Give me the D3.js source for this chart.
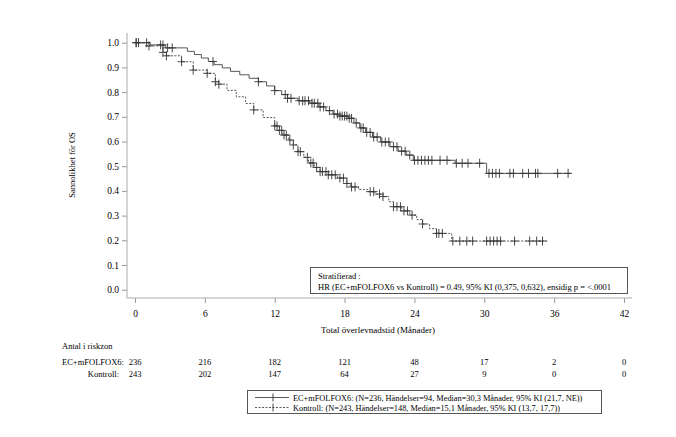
<!DOCTYPE html>
<html>
<head>
<meta charset="utf-8">
<script src="https://cdn.jsdelivr.net/npm/d3@7"></script>
<style>
  body { margin: 0; background: #fff; }
  text { font-family: "Liberation Serif", "Times New Roman", serif; fill: #000; }
</style>
</head>
<body>
<svg id="km" width="676" height="437"></svg>
<script>
// Kaplan-Meier steps: time (months) where the curve drops, and survival after the drop
var ecTime = [0, 1.3, 2.6, 4.5, 5.1, 5.7, 6.3, 6.8, 7.5, 8.2, 9.0, 9.8, 10.6, 11.3, 12.0, 12.6, 13.1, 14.0, 15.0, 15.8, 16.4, 17.0, 17.6, 18.3, 18.8, 19.3, 19.8, 20.4, 21.1, 21.9, 22.6, 23.3, 23.9, 27.5, 30.2];
var ecSurv = [1.0, 0.991, 0.979, 0.965, 0.952, 0.938, 0.924, 0.911, 0.898, 0.884, 0.870, 0.856, 0.842, 0.825, 0.806, 0.790, 0.775, 0.765, 0.755, 0.740, 0.725, 0.711, 0.703, 0.694, 0.675, 0.655, 0.637, 0.618, 0.598, 0.579, 0.561, 0.545, 0.524, 0.512, 0.471];
var ecEnd = 37.4;
var ecCensor = [0.1, 0.3, 1.0, 2.2, 2.4, 2.8, 3.2, 6.7, 10.6, 12.0, 12.9, 13.1, 13.4, 14.1, 14.4, 14.6, 14.9, 15.2, 15.4, 15.7, 15.9, 16.2, 16.7, 17.1, 17.4, 17.6, 17.8, 18.0, 18.2, 18.4, 18.6, 19.0, 19.4, 19.6, 19.9, 20.2, 20.5, 20.8, 21.2, 21.5, 21.8, 22.2, 22.5, 22.9, 23.2, 23.6, 24.0, 24.3, 24.6, 24.9, 25.2, 25.5, 26.2, 26.8, 27.6, 28.1, 28.6, 29.6, 30.4, 30.7, 31.0, 31.3, 32.2, 32.5, 33.3, 33.8, 34.4, 34.6, 36.3, 37.2];

var koTime = [0, 1.0, 2.4, 2.7, 4.0, 5.0, 6.2, 6.9, 7.2, 7.9, 8.7, 9.5, 10.2, 11.0, 12.0, 12.4, 12.7, 13.2, 13.6, 14.0, 14.5, 14.9, 15.4, 15.9, 16.6, 17.4, 18.2, 18.5, 19.2, 20.0, 20.6, 21.3, 21.8, 22.2, 22.9, 23.6, 24.2, 24.7, 25.3, 25.9, 27.2];
var koSurv = [1.0, 0.987, 0.961, 0.947, 0.923, 0.889, 0.876, 0.842, 0.832, 0.807, 0.781, 0.754, 0.728, 0.697, 0.663, 0.645, 0.626, 0.606, 0.586, 0.559, 0.536, 0.513, 0.495, 0.478, 0.465, 0.452, 0.430, 0.416, 0.406, 0.397, 0.387, 0.377, 0.356, 0.336, 0.319, 0.302, 0.284, 0.266, 0.247, 0.228, 0.197];
var koEnd = 35.4;
var koCensor = [0.1, 1.2, 2.4, 2.7, 4.0, 5.0, 6.2, 6.9, 7.2, 10.2, 12.0, 12.2, 12.4, 12.6, 12.8, 13.0, 13.3, 13.6, 14.0, 14.2, 14.8, 15.1, 15.3, 15.6, 15.9, 16.1, 16.4, 16.6, 16.9, 17.2, 17.6, 17.9, 18.2, 18.6, 18.9, 20.2, 20.5, 21.0, 21.3, 22.2, 22.5, 22.8, 23.1, 23.4, 23.8, 24.7, 25.9, 26.1, 26.4, 27.3, 27.9, 28.5, 29.0, 30.2, 30.5, 30.8, 31.1, 31.4, 32.6, 33.9, 34.5, 35.0];

var xTicks = [0, 6, 12, 18, 24, 30, 36, 42];
var yTicks = [0, 0.1, 0.2, 0.3, 0.4, 0.5, 0.6, 0.7, 0.8, 0.9, 1.0];
var ecAtRisk = [236, 216, 182, 121, 48, 17, 2, 0];
var koAtRisk = [243, 202, 147, 64, 27, 9, 0, 0];

var svg = d3.select("#km");
var x = d3.scaleLinear().domain([0, 42]).range([135, 624]);
var y = d3.scaleLinear().domain([0, 1]).range([289.7, 42.7]);

// axes sit a bit away from the data area
var yAxis = svg.append("g").attr("transform", "translate(127,0)")
  .call(d3.axisLeft(y).tickValues(yTicks).tickFormat(d3.format(".1f")).tickSize(5).tickPadding(3));
var xAxis = svg.append("g").attr("transform", "translate(0,298)")
  .call(d3.axisBottom(x).tickValues(xTicks).tickSize(5).tickPadding(7));
[yAxis, xAxis].forEach(function(a){
  a.select(".domain").remove();
  a.selectAll(".tick line").attr("stroke", "#999");
  a.selectAll(".tick text").style("font-size", "9.5px").style("font-family", "Liberation Serif");
});
svg.append("line").attr("x1", 127).attr("x2", 127).attr("y1", 33).attr("y2", 298).attr("stroke", "#aaa");
svg.append("line").attr("x1", 127).attr("x2", 632).attr("y1", 298).attr("y2", 298).attr("stroke", "#aaa");

svg.append("text").attr("transform", "translate(75,165) rotate(-90)")
  .attr("text-anchor", "middle").style("font-size", "8.5px").text("Sannolikhet för OS");
svg.append("text").attr("x", 378).attr("y", 333)
  .attr("text-anchor", "middle").style("font-size", "9px").text("Total överlevnadstid (Månader)");

function survAt(times, surv, t) {
  var i = d3.bisectRight(times, t) - 1;
  return surv[Math.max(i, 0)];
}

function stepPoints(times, surv, end) {
  var pts = [];
  times.forEach(function(t, i){ pts.push([t, surv[i]]); });
  pts.push([end, surv[surv.length - 1]]);
  return pts;
}

var stepLine = d3.line().x(function(d){ return x(d[0]); }).y(function(d){ return y(d[1]); }).curve(d3.curveStepAfter);

function drawCurve(times, surv, end, censor, dash) {
  svg.append("path").datum(stepPoints(times, surv, end))
    .attr("d", stepLine).attr("fill", "none").attr("stroke", "#444")
    .attr("stroke-width", 0.9).attr("stroke-dasharray", dash);
  var g = svg.append("g").attr("stroke", "#333").attr("stroke-width", 0.9);
  censor.forEach(function(t){
    var cx = x(t), cy = y(survAt(times, surv, t));
    g.append("line").attr("x1", cx).attr("x2", cx).attr("y1", cy - 4.5).attr("y2", cy + 4.5);
    g.append("line").attr("x1", cx - 4).attr("x2", cx + 4).attr("y1", cy).attr("y2", cy);
  });
}

drawCurve(ecTime, ecSurv, ecEnd, ecCensor, null);
drawCurve(koTime, koSurv, koEnd, koCensor, "2,1.5");

// hazard ratio box
svg.append("rect").attr("x", 310.5).attr("y", 267.5).attr("width", 317).attr("height", 26)
  .attr("fill", "#fff").attr("stroke", "#555");
svg.append("text").attr("x", 318).attr("y", 279).style("font-size", "8.5px").text("Stratifierad :");
svg.append("text").attr("x", 318).attr("y", 290).style("font-size", "8.5px")
  .text("HR (EC+mFOLFOX6 vs Kontroll) = 0.49, 95% KI (0,375, 0,632), ensidig p = <.0001");

// numbers at risk
svg.append("text").attr("x", 62).attr("y", 349).style("font-size", "8.5px").text("Antal i riskzon");
svg.append("text").attr("x", 62).attr("y", 365).style("font-size", "8.5px").text("EC+mFOLFOX6:");
svg.append("text").attr("x", 119).attr("y", 377).attr("text-anchor", "end").style("font-size", "8.5px").text("Kontroll:");
svg.selectAll(".risk-ec").data(ecAtRisk).enter().append("text")
  .attr("x", function(d, i){ return x(xTicks[i]); }).attr("y", 365)
  .attr("text-anchor", "middle").style("font-size", "8.5px").text(function(d){ return d; });
svg.selectAll(".risk-ko").data(koAtRisk).enter().append("text")
  .attr("x", function(d, i){ return x(xTicks[i]); }).attr("y", 377)
  .attr("text-anchor", "middle").style("font-size", "8.5px").text(function(d){ return d; });

// legend
var legend = [
  {label: "EC+mFOLFOX6: (N=236, Händelser=94, Median=30,3 Månader, 95% KI (21,7, NE))", dash: null},
  {label: "Kontroll: (N=243, Händelser=148, Median=15,1 Månader, 95% KI (13,7, 17,7))", dash: "2,1.5"}
];
svg.append("rect").attr("x", 247.5).attr("y", 390.5).attr("width", 354).attr("height", 23)
  .attr("fill", "#fff").attr("stroke", "#555");
legend.forEach(function(d, i){
  var ly = 397.5 + i * 10;
  svg.append("line").attr("x1", 255).attr("x2", 289).attr("y1", ly).attr("y2", ly)
    .attr("stroke", "#444").attr("stroke-width", 0.9).attr("stroke-dasharray", d.dash);
  svg.append("line").attr("x1", 273).attr("x2", 273).attr("y1", ly - 4).attr("y2", ly + 4)
    .attr("stroke", "#333").attr("stroke-width", 0.9);
  svg.append("text").attr("x", 293).attr("y", ly + 3).style("font-size", "8.3px").text(d.label);
});
</script>
</body>
</html>
